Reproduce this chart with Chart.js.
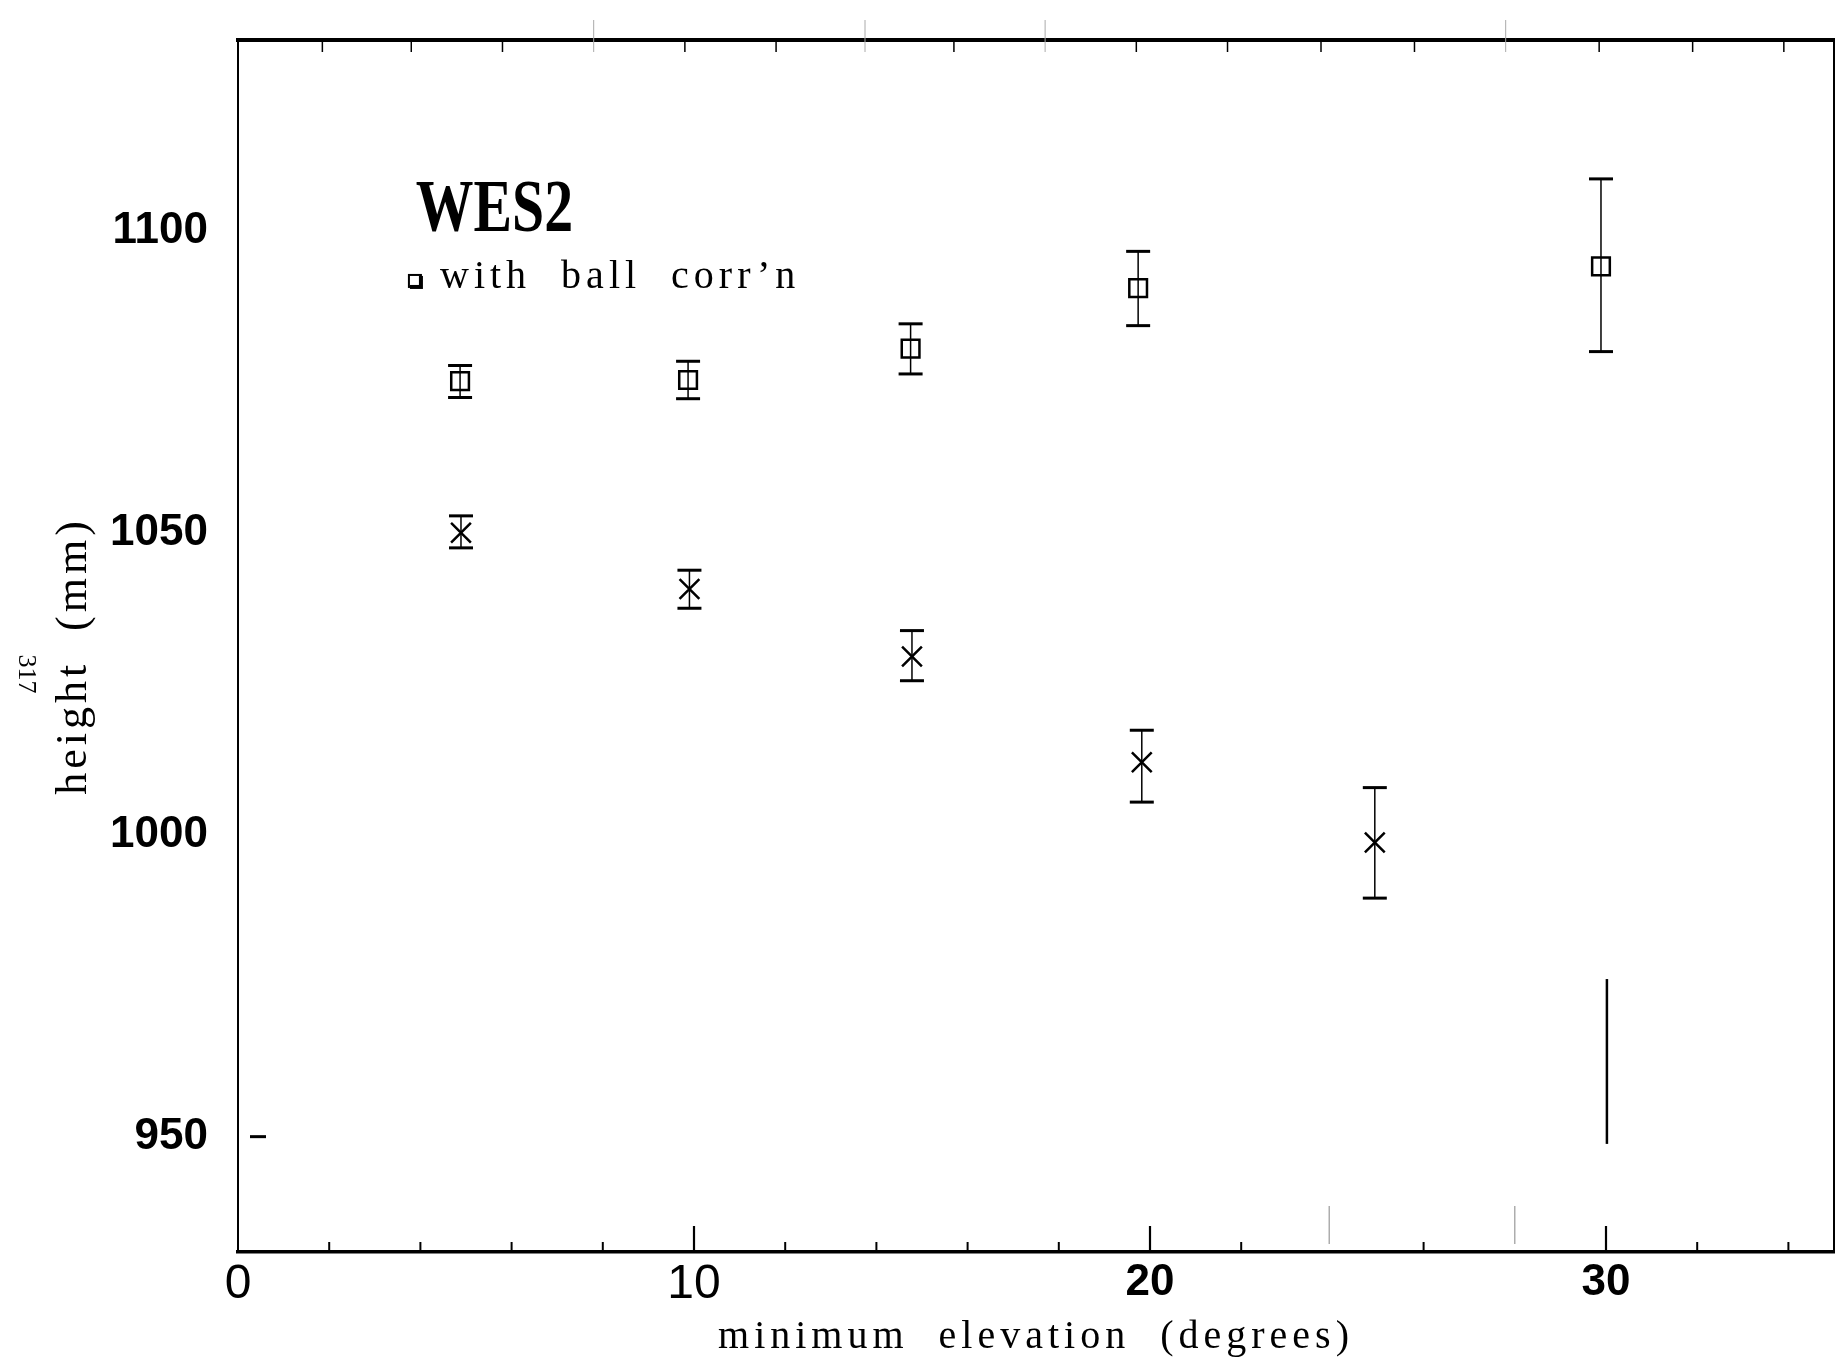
<!DOCTYPE html>
<html>
<head>
<meta charset="utf-8">
<title>WES2 - height vs minimum elevation</title>
<script src="https://cdn.jsdelivr.net/npm/chart.js@4.4.1/dist/chart.umd.min.js"></script>
<style>
  html, body { margin: 0; padding: 0; background: #fff; }
  canvas { display: block; }
</style>
</head>
<body>
<canvas id="grafico" width="1837" height="1363"></canvas>
<script>
// values
const squareX  = [4.87, 9.87, 14.75, 19.74, 29.89];
const squareY  = [1075.1, 1075.3, 1080.5, 1090.5, 1094.1];
const squareLo = [1072.4, 1072.2, 1076.3, 1084.3, 1080.0];
const squareHi = [1077.7, 1078.4, 1084.6, 1096.6, 1108.6];

const crossX  = [4.89, 9.9, 14.78, 19.82, 24.93];
const crossY  = [1050.0, 1040.7, 1029.5, 1012.0, 998.7];
const crossLo = [1047.5, 1037.5, 1025.5, 1005.4, 989.5];
const crossHi = [1052.8, 1043.8, 1033.8, 1017.3, 1007.8];

// lone vertical stroke near x = 30
const strokeX = [30.02, 30.02];
const strokeY = [948.8, 976.1];

const xTickValues = [0, 10, 20, 30];
const yTickValues = [950, 1000, 1050, 1100];
const bottomMinorTicks = [0, 2, 4, 6, 8, 12, 14, 16, 18, 22, 26, 32, 34];
const bottomMajorTicks = [10, 20, 30];
const bottomScanMarks = [23.93, 28.0];
const topMinorTicks = [1.85, 3.8, 5.8, 9.8, 11.8, 15.7, 19.7, 21.7, 23.75, 25.8, 29.85, 31.9, 33.9];
const topScanMarks = [7.8, 13.75, 17.7, 27.8];
const yInsideTicks = [950];

const sans = "'Liberation Sans', Arial, sans-serif";
const serif = "'Liberation Serif', 'Times New Roman', serif";

function errorBars(xs, lo, hi) {
  return xs.map((x, i) => ({
    data: [{ x: x, y: lo[i] }, { x: x, y: hi[i] }],
    showLine: true,
    borderColor: '#000',
    borderWidth: 1.5,
    pointStyle: 'line',
    pointRadius: 12,
    pointBorderWidth: 3,
    pointBorderColor: '#000',
  }));
}

const datasets = [
  ...errorBars(squareX, squareLo, squareHi),
  ...errorBars(crossX, crossLo, crossHi),
  {
    label: 'with ball corr\'n',
    data: squareX.map((x, i) => ({ x: x, y: squareY[i] })),
    pointStyle: 'rect',
    pointRadius: 12.5,
    pointBorderWidth: 2.5,
    pointBorderColor: '#000',
    pointBackgroundColor: 'rgba(0,0,0,0)',
  },
  {
    label: 'without',
    data: crossX.map((x, i) => ({ x: x, y: crossY[i] })),
    pointStyle: 'crossRot',
    pointRadius: 14,
    pointBorderWidth: 2.5,
    pointBorderColor: '#000',
  },
  {
    data: strokeX.map((x, i) => ({ x: x, y: strokeY[i] })),
    showLine: true,
    borderColor: '#000',
    borderWidth: 2.5,
    pointRadius: 0,
  },
];

const decorations = {
  id: 'decorations',
  afterDraw(chart) {
    const { ctx, chartArea: area, scales: { x, y } } = chart;
    ctx.save();

    const vtick = (v, y0, len, w, color) => {
      const px = x.getPixelForValue(v);
      ctx.beginPath();
      ctx.lineWidth = w;
      ctx.strokeStyle = color;
      ctx.moveTo(px, y0);
      ctx.lineTo(px, y0 + len);
      ctx.stroke();
    };
    // ticks on the bottom axis point up into the plot
    bottomMinorTicks.forEach(v => vtick(v, area.bottom, -10, 2, '#000'));
    bottomMajorTicks.forEach(v => vtick(v, area.bottom, -26, 2.2, '#000'));
    bottomScanMarks.forEach(v => vtick(v, area.bottom - 8, -38, 1.2, '#999'));
    topMinorTicks.forEach(v => vtick(v, area.top, 12, 1.5, '#000'));
    topScanMarks.forEach(v => vtick(v, area.top + 12, -32, 1, '#aaa'));

    yInsideTicks.forEach(v => {
      const py = y.getPixelForValue(v);
      ctx.beginPath();
      ctx.lineWidth = 3;
      ctx.strokeStyle = '#000';
      ctx.moveTo(area.left + 12, py);
      ctx.lineTo(area.left + 28, py);
      ctx.stroke();
    });

    ctx.fillStyle = '#000';

    // axis titles
    ctx.letterSpacing = '5px';
    ctx.font = '40px ' + serif;
    ctx.textAlign = 'center';
    ctx.textBaseline = 'alphabetic';
    ctx.fillText('minimum  elevation  (degrees)', 1036, 1348);

    ctx.save();
    ctx.translate(86, 656);
    ctx.rotate(-Math.PI / 2);
    ctx.font = '44px ' + serif;
    ctx.letterSpacing = '4px';
    ctx.fillText('height  (mm)', 0, 0);
    ctx.restore();

    // page number in the margin
    ctx.save();
    ctx.translate(26, 674);
    ctx.rotate(Math.PI / 2);
    ctx.letterSpacing = '0px';
    ctx.font = '26px ' + serif;
    ctx.textBaseline = 'middle';
    ctx.fillText('317', 0, 0);
    ctx.restore();

    // WES2 label and legend line
    ctx.save();
    ctx.translate(x.getPixelForValue(3.9), y.getPixelForValue(1100));
    ctx.scale(0.78, 1);
    ctx.letterSpacing = '0px';
    ctx.font = 'bold 74px ' + serif;
    ctx.textAlign = 'left';
    ctx.fillText('WES2', 0, 0);
    ctx.restore();

    const lx = x.getPixelForValue(3.88);
    const ly = y.getPixelForValue(1091.7);
    ctx.lineWidth = 2;
    ctx.strokeStyle = '#000';
    ctx.fillStyle = '#000';
    ctx.fillRect(lx - 5, ly - 5, 13, 13);
    ctx.fillStyle = '#fff';
    ctx.fillRect(lx - 5, ly - 5, 9, 9);
    ctx.strokeRect(lx - 6, ly - 6, 12, 12);

    ctx.fillStyle = '#000';
    ctx.textAlign = 'left';
    ctx.font = '40px ' + serif;
    ctx.letterSpacing = '5px';
    ctx.fillText('with  ball  corr\u2019n', x.getPixelForValue(4.43), y.getPixelForValue(1090.5));

    ctx.restore();
  }
};

new Chart(document.getElementById('grafico'), {
  type: 'scatter',
  data: { datasets: datasets },
  options: {
    responsive: false,
    animation: false,
    devicePixelRatio: 1,
    events: [],
    layout: { autoPadding: false, padding: { top: 40, right: 3, left: 0, bottom: 0 } },
    plugins: { legend: { display: false }, tooltip: { enabled: false } },
    scales: {
      x: {
        type: 'linear',
        position: 'bottom',
        min: 0,
        max: 35,
        afterFit: s => { s.height = 111; s.paddingLeft = 0; s.paddingRight = 0; },
        afterBuildTicks: s => { s.ticks = xTickValues.map(v => ({ value: v })); },
        grid: { display: false, drawTicks: false },
        border: { display: true, color: '#000', width: 3.5 },
        ticks: {
          padding: 4,
          color: '#000',
          maxRotation: 0,
          autoSkip: false,
          callback: v => String(v),
          font: c => (c.tick && c.tick.value >= 20)
            ? { family: sans, size: 44, weight: 'bold' }
            : { family: sans, size: 48, weight: 'normal' },
        },
      },
      x2: {
        type: 'linear',
        position: 'top',
        min: 0,
        max: 35,
        afterFit: s => { s.height = 0; },
        grid: { display: false, drawTicks: false },
        border: { display: true, color: '#000', width: 4 },
        ticks: { display: false },
      },
      y: {
        type: 'linear',
        position: 'left',
        min: 930.9,
        max: 1131.6,
        afterFit: s => { s.width = 238; s.paddingTop = 0; s.paddingBottom = 0; },
        afterBuildTicks: s => { s.ticks = yTickValues.map(v => ({ value: v })); },
        grid: { display: false, drawTicks: false },
        border: { display: true, color: '#000', width: 2 },
        ticks: {
          padding: 30,
          color: '#000',
          autoSkip: false,
          callback: v => String(v),
          font: { family: sans, size: 44, weight: 'bold' },
        },
      },
      y2: {
        type: 'linear',
        position: 'right',
        min: 930.9,
        max: 1131.6,
        afterFit: s => { s.width = 0; },
        grid: { display: false, drawTicks: false },
        border: { display: true, color: '#000', width: 2 },
        ticks: { display: false },
      },
    },
  },
  plugins: [decorations],
});
</script>
</body>
</html>
